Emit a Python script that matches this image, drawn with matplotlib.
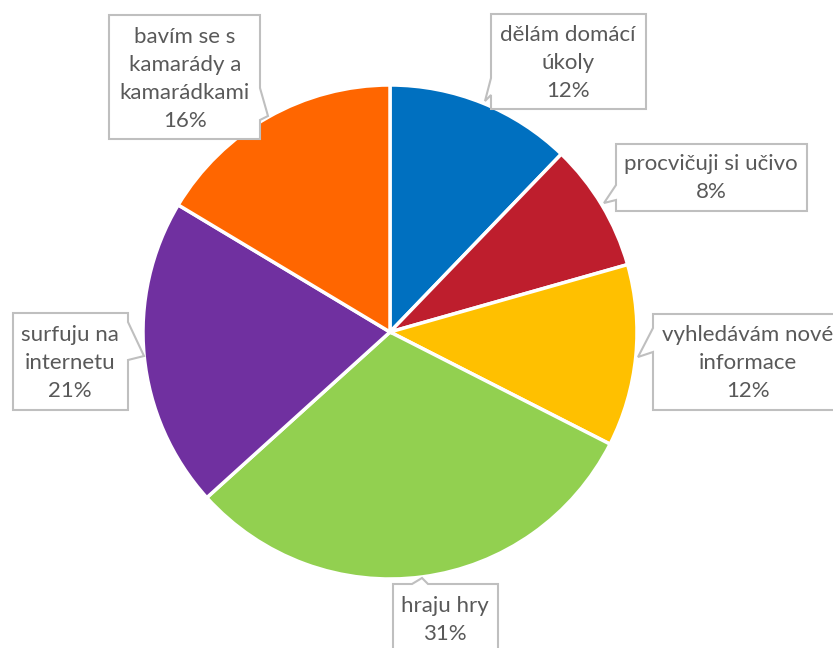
import matplotlib.pyplot as plt
from matplotlib.patches import Polygon

# Chart data (clockwise from the top)
categories = ['dělám domácí\núkoly', 'procvičuji si učivo', 'vyhledávám nové\ninformace',
              'hraju hry', 'surfuju na\ninternetu', 'bavím se s\nkamarády a\nkamarádkami']
values = [12.2, 8.4, 11.9, 30.8, 20.3, 16.4]
pct_labels = ['12%', '8%', '12%', '31%', '21%', '16%']
colors = ['#0070C0', '#BE1E2D', '#FFC000', '#92D050', '#7030A0', '#FF6600']

W, H = 833, 648

# Callout layout in pixel coords: box (x0, y0, x1, y1), side, pointer (base1, tip, base2), text centre
callouts = [
    ((491, 14, 646, 109), 'left', [(491, 78), (485, 101), (491, 95)], (568, 63)),
    ((616, 144, 807, 211), 'left', [(616, 185), (604, 203), (616, 200)], (711, 178)),
    ((653, 314, 845, 410), 'left', [(653, 328), (638, 357), (653, 352)], (748, 363)),
    ((393, 584, 498, 660), 'top', [(412, 584), (422, 578), (428, 584)], (445, 620)),
    ((13, 313, 128, 410), 'right', [(128, 322), (144, 356), (128, 360)], (70, 363)),
    ((109, 15, 260, 139), 'right', [(260, 88), (268, 116), (260, 120)], (185, 79)),
]


def fy(py):
    return H - py


fig = plt.figure(figsize=(W / 100, H / 100), dpi=100)
ax = fig.add_axes([0, 0, 1, 1])

ax.pie(values, colors=colors, startangle=90, counterclock=False,
       center=(390, fy(332)), radius=247,
       wedgeprops=dict(edgecolor='white', linewidth=2.5))

for (box, side, ptr, tc), cat, pct in zip(callouts, categories, pct_labels):
    x0, y0, x1, y1 = box
    if side == 'left':
        pts = [(x0, y0), (x1, y0), (x1, y1), (x0, y1), ptr[2], ptr[1], ptr[0]]
    elif side == 'right':
        pts = [(x0, y0), (x1, y0), ptr[0], ptr[1], ptr[2], (x1, y1), (x0, y1)]
    else:
        pts = [(x0, y0), ptr[0], ptr[1], ptr[2], (x1, y0), (x1, y1), (x0, y1)]
    pts = [(px, fy(py)) for px, py in pts]
    ax.add_patch(Polygon(pts, closed=True, facecolor='white', edgecolor='#BFBFBF',
                         linewidth=1.5, zorder=5))
    ax.text(tc[0], fy(tc[1]), cat + '\n' + pct, ha='center', va='center',
            fontsize=16, family='Lato', color='#595959', linespacing=1.48, zorder=6)

ax.set_xlim(0, W)
ax.set_ylim(0, H)
ax.set_aspect('equal')
ax.axis('off')

fig.savefig('out.png', dpi=100)
